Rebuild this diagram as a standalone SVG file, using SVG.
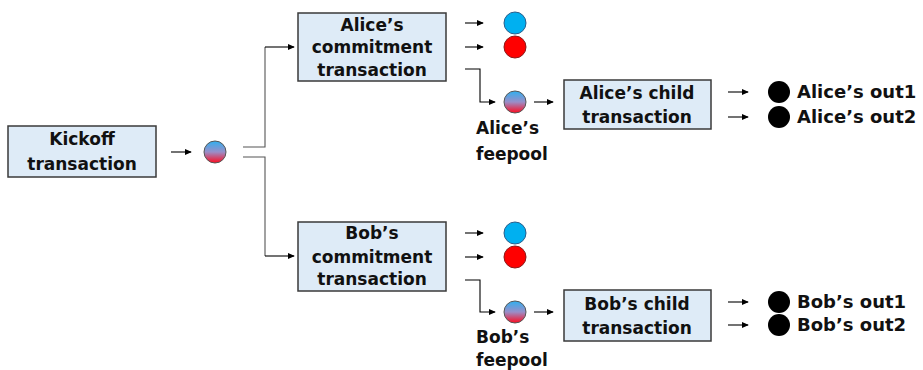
<svg xmlns="http://www.w3.org/2000/svg" width="923" height="370" viewBox="0 0 923 370">
<defs>
<linearGradient id="mix" x1="0" y1="0" x2="0" y2="1">
<stop offset="0" stop-color="#2fb0f0"/>
<stop offset="0.5" stop-color="#9a8ec8"/>
<stop offset="1" stop-color="#ff0a1e"/>
</linearGradient>
<marker id="ah" viewBox="0 0 8 8" refX="7" refY="4" markerWidth="7" markerHeight="7" markerUnits="userSpaceOnUse" orient="auto">
<path d="M0,0.5 L8,4 L0,7.5 Z" fill="#000"/>
</marker>
<style>
.box{fill:#deebf7;stroke:#3a3a3a;stroke-width:1.5}
.t{font-family:"DejaVu Sans","Noto Sans CJK JP",sans-serif;font-weight:bold;font-size:17px;fill:#111}
.o{font-size:18px}
.c{text-anchor:middle}
.arr{fill:none;stroke:#000;stroke-width:1.1;marker-end:url(#ah)}
.br{fill:none;stroke:#555;stroke-width:1.1}
.mix{fill:url(#mix);stroke:#555;stroke-width:1}
.blue{fill:#00b0f0;stroke:#2b5e8a;stroke-width:1}
.red{fill:#ff0000;stroke:#8a1a1a;stroke-width:1}
.blk{fill:#000}
</style>
</defs>
<g id="connectors">
<path class="arr" d="M171,152 H191"/>
<path class="br" d="M243,147 H265 V47"/>
<path class="arr" d="M265,47 H294"/>
<path class="br" d="M243,157 H265 V256"/>
<path class="arr" d="M265,256 H294"/>
<path class="arr" d="M465,23 H483"/>
<path class="arr" d="M465,47 H483"/>
<path class="arr" d="M465,69 H480 V102 H495"/>
<path class="arr" d="M534,102 H553"/>
<path class="arr" d="M728,92 H748"/>
<path class="arr" d="M728,117 H748"/>
<path class="arr" d="M465,233 H483"/>
<path class="arr" d="M465,257 H483"/>
<path class="arr" d="M465,280 H480 V312 H495"/>
<path class="arr" d="M534,312 H553"/>
<path class="arr" d="M728,302 H748"/>
<path class="arr" d="M728,325 H748"/>
</g>
<g id="kickoff">
<rect class="box" x="8" y="126" width="148" height="51"/>
<text class="t c" x="82" y="145">Kickoff</text>
<text class="t c" x="82" y="170">transaction</text>
</g>
<g id="kickoff-out"><circle class="mix" cx="215" cy="152" r="11"/></g>
<g id="alice-commitment">
<rect class="box" x="298" y="13" width="148" height="68"/>
<text class="t c" x="372" y="31">Alice’s</text>
<text class="t c" x="372" y="53">commitment</text>
<text class="t c" x="372" y="76">transaction</text>
</g>
<g id="alice-blue"><circle class="blue" cx="515" cy="23" r="11"/></g>
<g id="alice-red"><circle class="red" cx="515" cy="47" r="11"/></g>
<g id="alice-feepool">
<circle class="mix" cx="515" cy="102" r="11"/>
<text class="t" x="476" y="134">Alice’s</text>
<text class="t" x="476" y="160">feepool</text>
</g>
<g id="alice-child">
<rect class="box" x="564" y="80" width="147" height="49"/>
<text class="t c" x="637" y="99">Alice’s child</text>
<text class="t c" x="637" y="123">transaction</text>
</g>
<g id="alice-out1">
<circle class="blk" cx="779" cy="92" r="11"/>
<text class="t o" x="797" y="98">Alice’s out1</text>
</g>
<g id="alice-out2">
<circle class="blk" cx="779" cy="117" r="11"/>
<text class="t o" x="797" y="123">Alice’s out2</text>
</g>
<g id="bob-commitment">
<rect class="box" x="298" y="222" width="148" height="69"/>
<text class="t c" x="372" y="239">Bob’s</text>
<text class="t c" x="372" y="263">commitment</text>
<text class="t c" x="372" y="285">transaction</text>
</g>
<g id="bob-blue"><circle class="blue" cx="515" cy="233" r="11"/></g>
<g id="bob-red"><circle class="red" cx="515" cy="257" r="11"/></g>
<g id="bob-feepool">
<circle class="mix" cx="515" cy="312" r="11"/>
<text class="t" x="476" y="343">Bob’s</text>
<text class="t" x="476" y="366">feepool</text>
</g>
<g id="bob-child">
<rect class="box" x="564" y="290" width="147" height="51"/>
<text class="t c" x="637" y="310">Bob’s child</text>
<text class="t c" x="637" y="334">transaction</text>
</g>
<g id="bob-out1">
<circle class="blk" cx="779" cy="302" r="11"/>
<text class="t o" x="797" y="308">Bob’s out1</text>
</g>
<g id="bob-out2">
<circle class="blk" cx="779" cy="325" r="11"/>
<text class="t o" x="797" y="331">Bob’s out2</text>
</g>
</svg>
